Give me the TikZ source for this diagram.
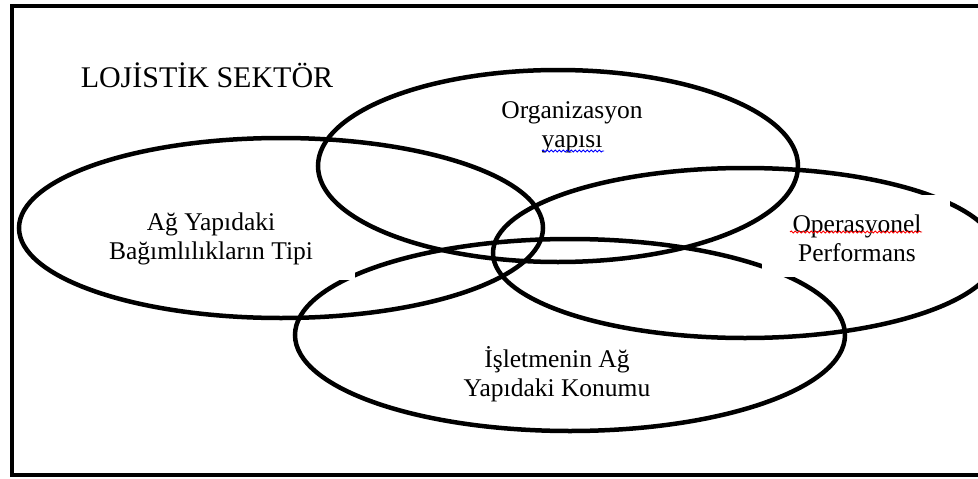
\documentclass[tikz,border=0pt]{standalone}
\usepackage{fontspec}
\setmainfont{Liberation Serif}
\usetikzlibrary{decorations.pathmorphing}

\tikzset{
  ring/.style={line width=4.5pt},
  ringtext/.style={align=center, font=\fontsize{25.5}{29}\selectfont},
  spellmark/.style={decorate, decoration={snake, segment length=4pt, amplitude=1pt}, line width=0.9pt}
}

\begin{document}
\begin{tikzpicture}[x=1pt,y=-1pt]
  \useasboundingbox (0,0) rectangle (978,479);
  \draw[line width=4.5pt] (12,6) rectangle (990,475);
  \node[anchor=base, font=\fontsize{30}{36}\selectfont] (sector) at (207,87) {LOJİSTİK SEKTÖR};
  % lower two sets first, the text boxes cover them
  \draw[ring] (570,335) ellipse [x radius=275, y radius=96];
  \draw[ring] (745,253) ellipse [x radius=252, y radius=85];
  \fill[white] (120,226) rectangle (355,280);
  \fill[white] (762,195) rectangle (950,277);
  \draw[ring] (281,228) ellipse [x radius=262, y radius=90];
  \draw[ring] (558,166) ellipse [x radius=240, y radius=96];
  \node[ringtext] (network) at (211,239) {Ağ Yapıdaki\\Bağımlılıkların Tipi};
  \node[ringtext] (organization) at (572,127) {Organizasyon\\yapısı};
  \node[ringtext] (performance) at (857,238) {Operasyonel\\Performans};
  \node[ringtext] (position) at (557,374) {İşletmenin Ağ\\Yapıdaki Konumu};
  % wavy spelling marks
  \draw[spellmark, red] (790,232) -- (922,232);
  \draw[spellmark, blue] (542,151) -- (604,151);
\end{tikzpicture}
\end{document}
